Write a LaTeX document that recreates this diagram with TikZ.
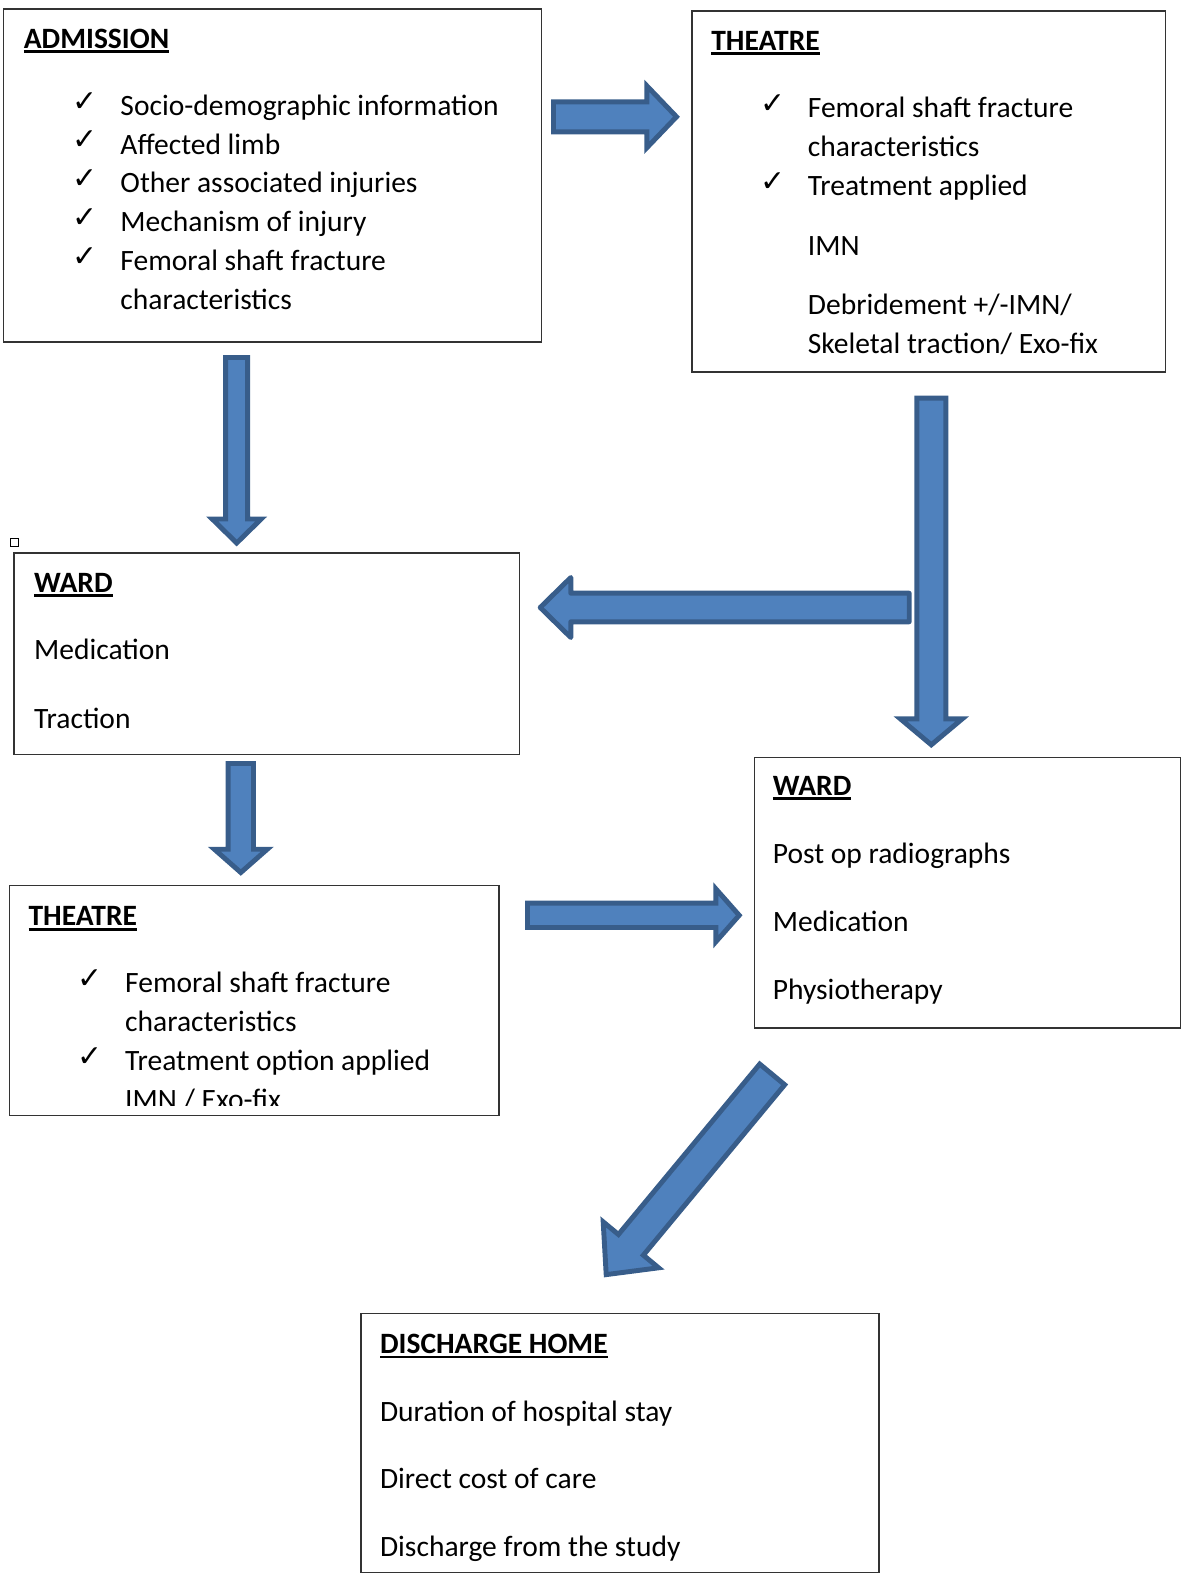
\documentclass[tikz,border=0pt]{standalone}
\usepackage{fontspec}
\setmainfont{Carlito}
\newfontfamily\symfont{DejaVu Sans}
\usetikzlibrary{calc, fit}

\definecolor{arrfill}{HTML}{4F81BD}
\definecolor{arrline}{HTML}{385D8A}

\newsavebox{\headbox}
\newcommand{\headtxt}[1]{\sbox{\headbox}{\bfseries #1}\rlap{\rule[-2.8pt]{\wd\headbox}{1.5pt}}\usebox{\headbox}}
\newcommand{\chk}{\hspace*{27.8pt}\makebox[27.2pt][l]{\raisebox{2.5pt}{\symfont\fontsize{17}{17}\selectfont ✓}}}
\newcommand{\itemind}{\hspace*{55pt}}
% block arrow: [opts]{from}{to}{shaft half}{head half}{head length}
\newcommand{\blockarrow}[6][]{%
  \coordinate (ab-base) at ($(#3)!#6!(#2)$);
  \draw[blockarr, #1] ($(#2)!#4!90:(#3)$) -- ($(ab-base)!#4!-90:(#2)$) -- ($(ab-base)!#5!-90:(#2)$)
    -- (#3) -- ($(ab-base)!#5!90:(#2)$) -- ($(ab-base)!#4!90:(#2)$) -- ($(#2)!#4!-90:(#3)$) -- cycle;}

\begin{document}
\begin{tikzpicture}[x=0.02cm, y=-0.02cm,
    every node/.style={font=\fontsize{16.8}{22.05}\selectfont},
    box/.style={rectangle, draw=black!80, line width=0.9pt, inner sep=0pt},
    txt/.style={anchor=base west, align=left, inner sep=0pt},
    blockarr/.style={fill=arrfill, draw=arrline, line width=2.8pt, line join=miter}]

  \useasboundingbox (0,0) rectangle (1185,1574);

  % boxes
  \node[box, fit={(3.5,9) (541.5,342)}] (adm) {};
  \node[box, fit={(692,11) (1165.5,372)}] (th1) {};
  \node[box, fit={(14,553) (519.5,754.5)}] (ward1) {};
  \node[box, fit={(754.5,757.5) (1180.5,1028)}] (ward2) {};
  \node[box, fit={(9.5,885.5) (499,1115.5)}] (th2) {};
  \node[box, fit={(361,1313.5) (879,1572.5)}] (dis) {};
  \node[draw, line width=0.6pt, inner sep=0pt, minimum size=0.16cm] (mark) at (14.3,542.3) {};

  % texts (anchored at the last line)
  \node[txt] (adm-txt) at ($(adm.north west)+(20.8,301)$) {\headtxt{ADMISSION}\\[16.3pt]
    \chk Socio-demographic information\\
    \chk Affected limb\\
    \chk Other associated injuries\\
    \chk Mechanism of injury\\
    \chk Femoral shaft fracture\\
    \itemind characteristics};
  \node[txt] (th1-txt) at ($(th1.north west)+(19.7,343.3)$) {\headtxt{THEATRE}\\[16.6pt]
    \chk Femoral shaft fracture\\
    \itemind characteristics\\
    \chk Treatment applied\\[12.2pt]
    \itemind IMN\\[11.6pt]
    \itemind Debridement +/-IMN/\\
    \itemind Skeletal traction/ Exo-fix};
  \node[txt] (ward1-txt) at ($(ward1.north west)+(20.6,176)$) {\headtxt{WARD}\\[16.6pt]
    Medication\\[16.8pt]
    Traction};
  \node[txt] (ward2-txt) at ($(ward2.north west)+(18.8,242.8)$) {\headtxt{WARD}\\[16.8pt]
    Post op radiographs\\[16.6pt]
    Medication\\[16.8pt]
    Physiotherapy};
  \begin{scope}
    \clip (th2.north west) rectangle ($(th2.south east)+(0,-11.2)$);
    \node[txt] (th2-txt) at ($(th2.north west)+(19.5,224.5)$) {\headtxt{THEATRE}\\[16.3pt]
      \chk Femoral shaft fracture\\
      \itemind characteristics\\
      \chk Treatment option applied\\
      \itemind IMN / Exo-fix};
  \end{scope}
  \node[txt] (dis-txt) at ($(dis.north west)+(19.5,244)$) {\headtxt{DISCHARGE HOME}\\[16.6pt]
    Duration of hospital stay\\[16.4pt]
    Direct cost of care\\[16.6pt]
    Discharge from the study};

  % arrow ends
  \coordinate (a1s) at (553.5,116.8);  \coordinate (a1e) at (676.5,116.8);
  \coordinate (a2s) at (236.7,357.5);  \coordinate (a2e) at (236.7,543);
  \coordinate (a3s) at (931.3,398.2);  \coordinate (a3e) at (931.3,744.8);
  \coordinate (a4s) at (909.2,607.5);  \coordinate (a4e) at (540.2,607.5);
  \coordinate (a5s) at (240.8,763.5);  \coordinate (a5e) at (240.8,872.5);
  \coordinate (a6s) at (527.5,915.3);  \coordinate (a6e) at (739.2,915.3);
  \coordinate (a7s) at (772.2,1074.4); \coordinate (a7e) at (606.2,1274.6);

  \blockarrow{a1s}{a1e}{0.30cm}{0.62cm}{0.594cm}
  \blockarrow{a2s}{a2e}{0.22cm}{0.49cm}{0.48cm}
  \blockarrow[line join=round]{a4s}{a4e}{0.286cm}{0.60cm}{0.612cm}
  \blockarrow{a3s}{a3e}{0.29cm}{0.62cm}{0.52cm}
  \blockarrow{a5s}{a5e}{0.254cm}{0.53cm}{0.466cm}
  \blockarrow{a6s}{a6e}{0.244cm}{0.53cm}{0.468cm}
  \blockarrow{a7s}{a7e}{0.324cm}{0.72cm}{0.774cm}
\end{tikzpicture}
\end{document}
